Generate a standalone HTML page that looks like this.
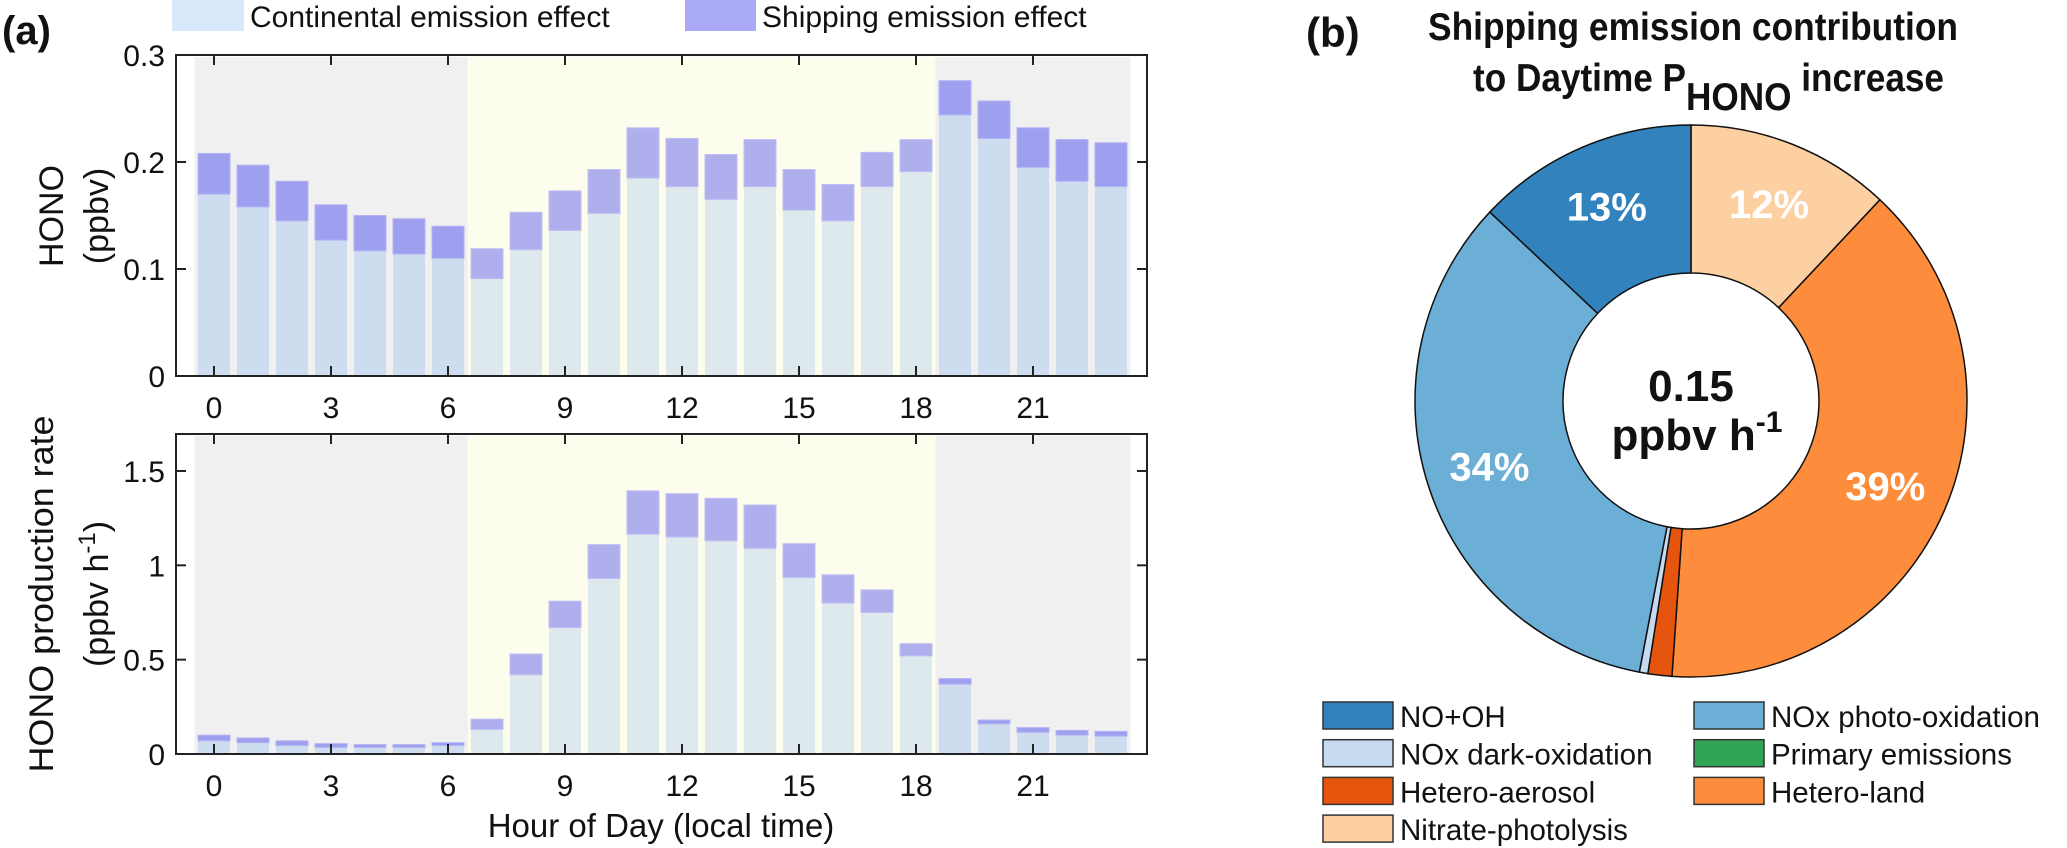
<!DOCTYPE html>
<html><head><meta charset="utf-8">
<style>
body{margin:0;background:#fff;}
svg{display:block;font-family:"Liberation Sans",Arial,sans-serif;}
</style></head>
<body>
<svg id="fig" width="2067" height="848" viewBox="0 0 2067 848" xmlns="http://www.w3.org/2000/svg">
<g id="pa"></g>
<g id="pb"></g>
</svg>
<script>
const hours = [0,1,2,3,4,5,6,7,8,9,10,11,12,13,14,15,16,17,18,19,20,21,22,23];
const honoCont = [0.170,0.158,0.145,0.127,0.117,0.114,0.110,0.091,0.118,0.136,0.152,0.185,0.177,0.165,0.177,0.155,0.145,0.177,0.191,0.244,0.222,0.195,0.182,0.177];
const honoTotal = [0.208,0.197,0.182,0.160,0.150,0.147,0.140,0.119,0.153,0.173,0.193,0.232,0.222,0.207,0.221,0.193,0.179,0.209,0.221,0.276,0.257,0.232,0.221,0.218];
const prodCont = [0.07,0.06,0.045,0.035,0.035,0.035,0.045,0.13,0.42,0.67,0.93,1.165,1.15,1.13,1.09,0.935,0.80,0.75,0.52,0.37,0.16,0.115,0.10,0.095];
const prodTotal = [0.10,0.085,0.07,0.055,0.05,0.05,0.06,0.185,0.53,0.81,1.11,1.395,1.38,1.355,1.32,1.115,0.95,0.87,0.585,0.40,0.18,0.14,0.125,0.12];
const xTicks = [0,3,6,9,12,15,18,21];
const topYTicks = [0,0.1,0.2,0.3];
const topYLabels = ["0","0.1","0.2","0.3"];
const botYTicks = [0,0.5,1,1.5];
const botYLabels = ["0","0.5","1","1.5"];
const pieNames = ["Nitrate-photolysis","Hetero-land","Hetero-aerosol","NOx dark-oxidation","Primary emissions","NOx photo-oxidation","NO+OH"];
const pieValues = [12,39.1,1.4,0.5,0,34,13];
const pieLabels = ["12%","39%","","","","34%","13%"];

const NS="http://www.w3.org/2000/svg";
function mk(parent,tag,attrs,text){const e=document.createElementNS(NS,tag);for(const k in attrs)e.setAttribute(k,attrs[k]);if(text!==undefined)e.textContent=text;parent.appendChild(e);return e;}
const pa=document.getElementById('pa'), pb=document.getElementById('pb');

const L=176,R=1147;
function xs(h){return 214+39*h;}
function isNight(h){return h<6.5||h>18.5;}

function drawAxes(top,bottom,vmax,yT,yL,cont,tot,name){
  const ys=v=>bottom-(v/vmax)*(bottom-top);
  const g=mk(pa,'g',{});
  
  
  let r=mk(g,'rect',{x:xs(-0.5),y:top+2,width:xs(6.5)-xs(-0.5),height:bottom-top-3,fill:'#f0f0f0'});
  
  r=mk(g,'rect',{x:xs(6.5),y:top+2,width:xs(18.5)-xs(6.5),height:bottom-top-3,fill:'#fdfdee'});
  
  r=mk(g,'rect',{x:xs(18.5),y:top+2,width:xs(23.5)-xs(18.5),height:bottom-top-3,fill:'#f0f0f0'});
  
  hours.forEach((h,i)=>{
    const n=isNight(h);
    const b=mk(g,'rect',{x:xs(h)-16,y:ys(cont[i]),width:32,height:bottom-ys(cont[i]),fill:n?'#cddcee':'#dde9ec'});
    
    
    const s=mk(g,'rect',{x:xs(h)-16,y:ys(tot[i]),width:32,height:ys(cont[i])-ys(tot[i]),fill:n?'#9f9fef':'#afafee',stroke:n?'#b4b4f5':'#c0c0f4','stroke-width':1});
    
    
  });
  mk(g,'rect',{x:L,y:top,width:R-L,height:bottom-top,fill:'none',stroke:'#222','stroke-width':2});
  xTicks.forEach(t=>{
    mk(g,'line',{x1:xs(t),x2:xs(t),y1:bottom,y2:bottom-10,stroke:'#222','stroke-width':2});
    mk(g,'line',{x1:xs(t),x2:xs(t),y1:top,y2:top+10,stroke:'#222','stroke-width':2});
    const tl=mk(g,'text',{x:xs(t),y:bottom+42,'font-size':30,'text-anchor':'middle',fill:'#111'},String(t));
    
  });
  yT.forEach((t,i)=>{
    const y=ys(t);
    mk(g,'line',{x1:L,x2:L+10,y1:y,y2:y,stroke:'#222','stroke-width':2});
    mk(g,'line',{x1:R,x2:R-10,y1:y,y2:y,stroke:'#222','stroke-width':2});
    const tl=mk(g,'text',{x:165,y:y+11,'font-size':30,'text-anchor':'end',fill:'#111'},yL[i]);
    
  });
}
drawAxes(55,376,0.3,topYTicks,topYLabels,honoCont,honoTotal,'hono-chart');
drawAxes(434,754,1.696,botYTicks,botYLabels,prodCont,prodTotal,'production-rate-chart');
</script>
<script>
(function(){
const pa=document.getElementById('pa');
pa.insertAdjacentHTML('beforeend',`
<text x="2" y="44" font-size="40" font-weight="bold" fill="#111">(a)</text>
<rect x="172" y="0" width="72" height="31" fill="#dae8fb"/>
<text x="250" y="27" font-size="30" fill="#111">Continental emission effect</text>
<rect x="685" y="0" width="71" height="31" fill="#aaaaf8"/>
<text x="762" y="27" font-size="30" fill="#111">Shipping emission effect</text>
<text transform="translate(63,216) rotate(-90)" font-size="34" text-anchor="middle" fill="#111">HONO</text>
<text transform="translate(108,216) rotate(-90)" font-size="34" text-anchor="middle" fill="#111">(ppbv)</text>
<text transform="translate(53,594) rotate(-90)" font-size="34" text-anchor="middle" textLength="357" lengthAdjust="spacingAndGlyphs" fill="#111">HONO production rate</text>
<text transform="translate(108,594) rotate(-90)" font-size="34" text-anchor="middle" fill="#111">(ppbv h<tspan dy="-13" font-size="24">-1</tspan><tspan dy="13">)</tspan></text>
<text x="661" y="837" font-size="33" text-anchor="middle" fill="#111">Hour of Day (local time)</text>
`);
})();
</script>
<script>
const pieColors = ["#fdd0a2","#fd8d3c","#e6550d","#c6dbef","#31a354","#6baed6","#3182bd"];
(function(){
const NS="http://www.w3.org/2000/svg";
const pb=document.getElementById('pb');
function mk(parent,tag,attrs,text){const e=document.createElementNS(NS,tag);for(const k in attrs)e.setAttribute(k,attrs[k]);if(text!==undefined)e.textContent=text;parent.appendChild(e);return e;}
const cx=1691, cy=401, ro=276, ri=128;
const total=pieValues.reduce((a,b)=>a+b,0);
function pt(a,r){return [cx+r*Math.sin(a), cy-r*Math.cos(a)];}
let acc=0;
pieValues.forEach((v,i)=>{
  const a0=acc/total*2*Math.PI; acc+=v; const a1=acc/total*2*Math.PI;
  if(v<=0) return;
  const big=(a1-a0)>Math.PI?1:0;
  const p0=pt(a0,ro),p1=pt(a1,ro),q1=pt(a1,ri),q0=pt(a0,ri);
  const d=`M${p0[0]},${p0[1]} A${ro},${ro} 0 ${big} 1 ${p1[0]},${p1[1]} L${q1[0]},${q1[1]} A${ri},${ri} 0 ${big} 0 ${q0[0]},${q0[1]} Z`;
  const s=mk(pb,'path',{d:d,fill:pieColors[i],stroke:'#111','stroke-width':1.5});
  
  
  if(pieLabels[i]){
    const am=(a0+a1)/2; const p=pt(am,(ro+ri)/2+10);
    const t=mk(pb,'text',{x:p[0],y:p[1]+14,'font-size':40,'font-weight':'bold','text-anchor':'middle',fill:'#fff'},pieLabels[i]);
    
    
  }
});
pb.insertAdjacentHTML('beforeend',`
<text x="1306" y="47" font-size="42" font-weight="bold" fill="#111">(b)</text>
<text x="1428" y="40" font-size="39" font-weight="bold" textLength="530" lengthAdjust="spacingAndGlyphs" fill="#111">Shipping emission contribution</text>
<text x="1473" y="91" font-size="39" font-weight="bold" textLength="471" lengthAdjust="spacingAndGlyphs" fill="#111">to Daytime P<tspan dy="19">HONO</tspan><tspan dy="-19"> increase</tspan></text>
<text x="1691" y="401" font-size="44" font-weight="bold" text-anchor="middle" fill="#111">0.15</text>
<text x="1697" y="450" font-size="44" font-weight="bold" text-anchor="middle" fill="#111">ppbv h<tspan dy="-18" font-size="30">-1</tspan></text>
`);
const legOrder=[6,5,3,4,2,1,0];
legOrder.forEach((idx,k)=>{
  const col=k%2, row=Math.floor(k/2);
  const x=col?1694:1323, y=702+row*37.7;
  const r=mk(pb,'rect',{x:x,y:y,width:70,height:27,fill:pieColors[idx],stroke:'#333','stroke-width':1.5});
  
  
  const t=mk(pb,'text',{x:x+77,y:y+25,'font-size':29.5,fill:'#111'},pieNames[idx]);
  
  
});
})();
</script>
</body></html>
